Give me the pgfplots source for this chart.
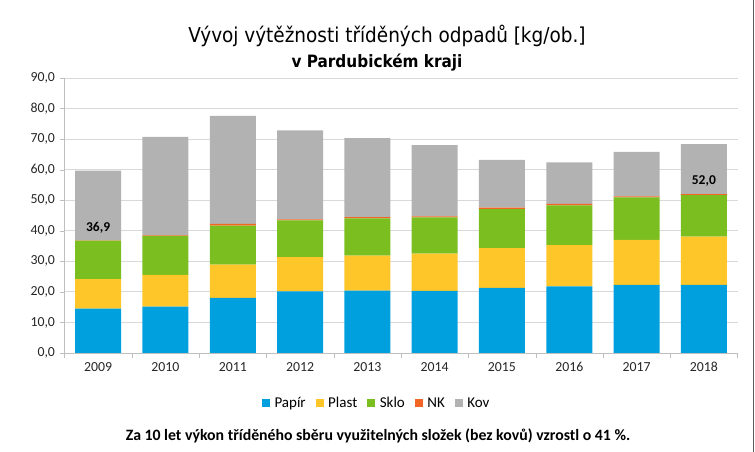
\documentclass[border=0pt]{standalone}
\usepackage{pgfplots}
\pgfplotsset{compat=1.18}
\usepackage{fontspec}
\setmainfont{Carlito}
\newfontfamily\titlefont{DejaVu Sans Condensed}
\definecolor{papir}{RGB}{0,160,222}
\definecolor{plast}{RGB}{255,198,41}
\definecolor{sklo}{RGB}{122,190,32}
\definecolor{nk}{RGB}{242,101,34}
\definecolor{kov}{RGB}{178,178,178}
\definecolor{gridc}{RGB}{217,217,217}
\definecolor{axc}{RGB}{191,191,191}
\begin{document}
\begin{tikzpicture}[x=1pt,y=1pt]
\path[use as bounding box] (0,0) rectangle (755,452);
\draw[color=black!65, line width=1.5pt] (753.5,0) -- (753.5,452);
\node[font=\titlefont\fontsize{20.5}{23}\selectfont] at (387,416) {Vývoj výtěžnosti tříděných odpadů [kg/ob.]};
\node[font=\titlefont\fontsize{17}{19}\selectfont\bfseries] at (377,389) {v Pardubickém kraji};
\node[font=\fontsize{15.8}{17}\selectfont\bfseries] at (378,16) {Za 10 let výkon tříděného sběru využitelných složek (bez kovů) vzrostl o 41~\%.};
\begin{axis}[
    at={(64.5pt,99pt)}, anchor=south west,
    scale only axis,
    width=673pt, height=275pt,
    ybar stacked,
    bar width=46pt,
    xmin=-0.5, xmax=9.5,
    ymin=0, ymax=90,
    xtick={0,...,9},
    xticklabels={2009,2010,2011,2012,2013,2014,2015,2016,2017,2018},
    major x tick style={draw=none},
    minor xtick={-0.5,0.5,...,9.5},
    minor x tick style={draw=axc},
    ytick={0,10,...,90},
    yticklabel={\pgfmathprintnumber[fixed,fixed zerofill,precision=1,use comma]{\tick}},
    /pgf/number format/assume math mode=true,
    tick align=outside,
    major tick length=4pt, minor tick length=5pt,
    y tick style={draw=axc},
    axis lines*=left,
    axis line style={draw=axc, line width=0.8pt},
    ymajorgrids=true,
    grid style={draw=gridc, line width=0.8pt},
    tick label style={font=\fontsize{13.8}{15}\selectfont, text=black!85},
    xticklabel style={yshift=-2pt},
    yticklabel style={xshift=-2pt},
    legend columns=-1,
    legend style={at={(0.464,-0.182)}, anchor=center, draw=none,
        font=\fontsize{15}{17}\selectfont,
        /tikz/every odd column/.append style={column sep=2.5pt},
        /tikz/every even column/.append style={column sep=8pt}},
    legend image code/.code={\fill[#1, draw=none] (0pt,-4pt) rectangle (8pt,4pt);},
    every axis plot/.append style={draw=none},
    clip=false,
]
\addplot[fill=papir] coordinates {(0,14.5)(1,15.2)(2,18.0)(3,20.2)(4,20.4)(5,20.3)(6,21.3)(7,21.8)(8,22.3)(9,22.3)};
\addplot[fill=plast] coordinates {(0,9.7)(1,10.4)(2,10.9)(3,11.2)(4,11.5)(5,12.2)(6,13.0)(7,13.5)(8,14.7)(9,15.8)};
\addplot[fill=sklo] coordinates {(0,12.6)(1,12.7)(2,12.8)(3,12.0)(4,12.2)(5,11.9)(6,12.8)(7,13.0)(8,13.9)(9,13.6)};
\addplot[fill=nk] coordinates {(0,0.1)(1,0.2)(2,0.6)(3,0.3)(4,0.4)(5,0.3)(6,0.5)(7,0.5)(8,0.4)(9,0.3)};
\addplot[fill=kov] coordinates {(0,22.8)(1,32.2)(2,35.3)(3,29.2)(4,25.8)(5,23.3)(6,15.6)(7,13.6)(8,14.5)(9,16.4)};
\legend{Papír,Plast,Sklo,NK,Kov}
\coordinate (lab1) at (axis cs:0,40.9);
\coordinate (lab2) at (axis cs:9,56.3);
\end{axis}
\node[font=\fontsize{13.5}{15}\selectfont\bfseries] at (lab1) {36,9};
\node[font=\fontsize{13.5}{15}\selectfont\bfseries] at (lab2) {52,0};
\end{tikzpicture}
\end{document}
